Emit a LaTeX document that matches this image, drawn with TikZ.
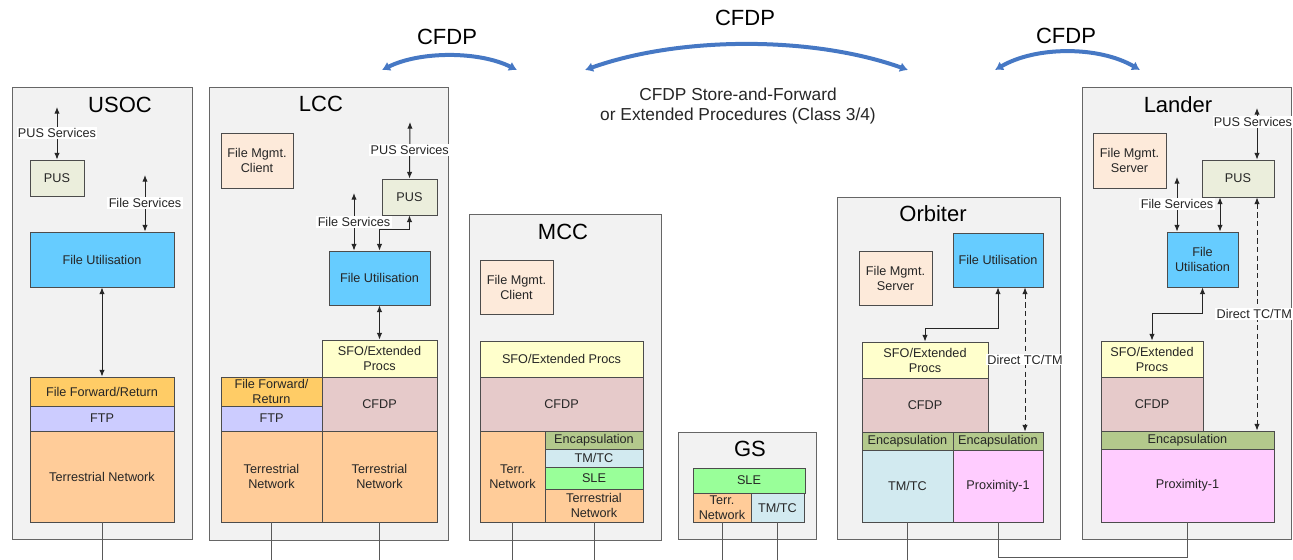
\documentclass[tikz,border=0pt]{standalone}
\usepackage{fontspec}
\setmainfont{Liberation Sans}
\usetikzlibrary{arrows.meta,fit}

\definecolor{stationbg}{HTML}{F2F2F2}
\definecolor{pusfill}{HTML}{EBEEDC}
\definecolor{mgmtfill}{HTML}{FDEADA}
\definecolor{utilfill}{HTML}{66CCFF}
\definecolor{ffrfill}{HTML}{FFCC66}
\definecolor{ftpfill}{HTML}{CCCCFF}
\definecolor{terrfill}{HTML}{FFCC99}
\definecolor{sfofill}{HTML}{FFFFCC}
\definecolor{cfdpfill}{HTML}{E6CACA}
\definecolor{encfill}{HTML}{B3C98C}
\definecolor{tmtcfill}{HTML}{D2EAF0}
\definecolor{slefill}{HTML}{99FF99}
\definecolor{proxfill}{HTML}{FFCCFF}
\definecolor{arcblue}{HTML}{4678C4}

% one block of a stack, given by its corners, text set in the middle
\newcommand{\layer}[7]{%
  \node[#2, fit={(#3,#4) (#5,#6)}] (#1) {};
  \node[at={(#1.center)}, boxtext] (#1Text) {#7};}

\begin{document}
\begin{tikzpicture}[x=0.75pt, y=-0.75pt]

\tikzstyle{station} = [draw=black!60, fill=stationbg, line width=0.75pt, inner sep=0pt]
\tikzstyle{box} = [draw=black!70, line width=0.6pt, inner sep=0pt]
\tikzstyle{boxtext} = [anchor=center, align=center, inner sep=0pt, text=black!85,
  font=\fontsize{9.5}{11.25}\selectfont]
\tikzstyle{title} = [font=\fontsize{16.5}{19}\selectfont, anchor=center]
\tikzstyle{conn} = [{Latex[length=5pt,width=4pt]}-{Latex[length=5pt,width=4pt]},
  line width=0.7pt, draw=black!85]
\tikzstyle{direct} = [conn, dash pattern=on 4pt off 2.5pt]
\tikzstyle{svc} = [fill=white, inner sep=1pt, text=black!85, font=\fontsize{9.5}{11}\selectfont]
\tikzstyle{wire} = [draw=black!65, line width=0.6pt]
\tikzstyle{cfdparc} = [{Latex[length=6pt,width=7.5pt]}-{Latex[length=6pt,width=7.5pt]},
  draw=arcblue, line width=3pt]

\useasboundingbox (0,0) rectangle (1293,560);

% stations
\layer{usoc}{station}{12}{88}{192}{539}{}
\layer{lcc}{station}{209}{88}{448}{540}{}
\layer{mcc}{station}{469}{214}{661}{540}{}
\layer{gs}{station}{678}{432}{816}{539}{}
\layer{orbiter}{station}{837}{197}{1060}{539}{}
\layer{lander}{station}{1082}{88}{1291}{539}{}

\node[title] (usocName) at (120,105) {USOC};
\node[title] (lccName) at (321,104) {LCC};
\node[title] (mccName) at (563,232) {MCC};
\node[title] (gsName) at (750,449) {GS};
\node[title] (orbName) at (933,214) {Orbiter};
\node[title] (landName) at (1178,105) {Lander};

% USOC
\layer{usocPus}{box, fill=pusfill}{30}{160}{84}{196}{PUS}
\layer{usocFu}{box, fill=utilfill}{30}{232}{174}{287}{File Utilisation}
\layer{usocFfr}{box, fill=ffrfill}{30}{377}{174}{406}{File Forward/Return}
\layer{usocFtp}{box, fill=ftpfill}{30}{406}{174}{431}{FTP}
\layer{usocTn}{box, fill=terrfill}{30}{431}{174}{522}{Terrestrial Network}

\coordinate (usocPusEnd) at (57,107);
\draw[conn] (usocPus.north) -- (usocPusEnd) node[svc, midway] (usocPusLbl) {PUS Services};
\coordinate (usocFsEnd) at (145,175);
\draw[conn] (usocFu.north -| usocFsEnd) -- (usocFsEnd) node[svc, midway] (usocFsLbl) {File Services};
\draw[conn] (usocFu.south) -- (usocFfr.north);

% LCC
\layer{lccMgmt}{box, fill=mgmtfill}{221}{133}{293}{188}{File Mgmt.\\Client}
\layer{lccPus}{box, fill=pusfill}{382}{179}{437}{215}{PUS}
\layer{lccFu}{box, fill=utilfill}{329}{251}{430}{305}{File Utilisation}
\layer{lccSfo}{box, fill=sfofill}{322}{340}{437}{377}{SFO/Extended\\Procs}
\layer{lccCfdp}{box, fill=cfdpfill}{322}{377}{437}{431}{CFDP}
\layer{lccFfr}{box, fill=ffrfill}{221}{377}{322}{406}{File Forward/\\Return}
\layer{lccFtp}{box, fill=ftpfill}{221}{406}{322}{431}{FTP}
\layer{lccTnA}{box, fill=terrfill}{221}{431}{322}{522}{Terrestrial\\Network}
\layer{lccTnB}{box, fill=terrfill}{322}{431}{437}{522}{Terrestrial\\Network}

\coordinate (lccPusEnd) at (410,122);
\draw[conn] (lccPus.north) -- (lccPusEnd) node[svc, midway] (lccPusLbl) {PUS Services};
\coordinate (lccFsEnd) at (354,193);
\draw[conn] (lccFu.north -| lccFsEnd) -- (lccFsEnd) node[svc, midway] (lccFsLbl) {File Services};
\draw[conn] (lccPus.south) -- ++(0,14) -| (lccFu.north);
\draw[conn] (lccFu.south) -- (lccSfo.north);

% MCC
\layer{mccMgmt}{box, fill=mgmtfill}{480}{260}{553}{314}{File Mgmt.\\Client}
\layer{mccSfo}{box, fill=sfofill}{480}{341}{643}{377}{SFO/Extended Procs}
\layer{mccCfdp}{box, fill=cfdpfill}{480}{377}{643}{431}{CFDP}
\layer{mccTerr}{box, fill=terrfill}{480}{431}{545}{522}{Terr.\\Network}
\layer{mccEnc}{box, fill=encfill}{545}{431}{643}{449}{Encapsulation}
\layer{mccTmtc}{box, fill=tmtcfill}{545}{449}{643}{467}{TM/TC}
\layer{mccSle}{box, fill=slefill}{545}{467}{643}{489}{SLE}
\layer{mccTn}{box, fill=terrfill}{545}{489}{643}{522}{Terrestrial\\Network}

% GS
\layer{gsSle}{box, fill=slefill}{693}{468}{805}{493}{SLE}
\layer{gsTerr}{box, fill=terrfill}{693}{493}{751}{522}{Terr.\\Network}
\layer{gsTmtc}{box, fill=tmtcfill}{751}{493}{804}{522}{TM/TC}

% Orbiter
\layer{orbMgmt}{box, fill=mgmtfill}{859}{251}{932}{305}{File Mgmt.\\Server}
\layer{orbFu}{box, fill=utilfill}{953}{233}{1043}{287}{File Utilisation}
\layer{orbSfo}{box, fill=sfofill}{862}{342}{988}{378}{SFO/Extended\\Procs}
\layer{orbCfdp}{box, fill=cfdpfill}{862}{378}{988}{432}{CFDP}
\layer{orbEncA}{box, fill=encfill}{862}{432}{953}{450}{Encapsulation}
\layer{orbEncB}{box, fill=encfill}{953}{432}{1043}{450}{Encapsulation}
\layer{orbTmtc}{box, fill=tmtcfill}{862}{450}{953}{522}{TM/TC}
\layer{orbProx}{box, fill=proxfill}{953}{450}{1043}{522}{Proximity-1}

\draw[conn] (orbFu.south) -- ++(0,41) -| (orbSfo.north);
\coordinate (orbDirect) at (1025,0);
\draw[direct] (orbFu.south -| orbDirect) -- (orbEncB.north -| orbDirect)
  node[svc, midway] (orbDirectLbl) {Direct TC/TM};

% Lander
\layer{landMgmt}{box, fill=mgmtfill}{1093}{133}{1166}{188}{File Mgmt.\\Server}
\layer{landPus}{box, fill=pusfill}{1202}{160}{1274}{197}{PUS}
\layer{landFu}{box, fill=utilfill}{1167}{232}{1238}{287}{File\\Utilisation}
\layer{landSfo}{box, fill=sfofill}{1101}{341}{1203}{377}{SFO/Extended\\Procs}
\layer{landCfdp}{box, fill=cfdpfill}{1101}{377}{1203}{431}{CFDP}
\layer{landEnc}{box, fill=encfill}{1101}{431}{1274}{449}{Encapsulation}
\layer{landProx}{box, fill=proxfill}{1101}{449}{1274}{522}{Proximity-1}

\coordinate (landPusEnd) at (1257,108);
\draw[conn] (landPus.north -| landPusEnd) -- (landPusEnd)
  node[svc, pos=0.73, xshift=-3pt] (landPusLbl) {PUS Services};
\coordinate (landFsEnd) at (1177,177);
\draw[conn] (landFu.north -| landFsEnd) -- (landFsEnd) node[svc, midway] (landFsLbl) {File Services};
\coordinate (landLink) at (1220,0);
\draw[conn] (landPus.south -| landLink) -- (landFu.north -| landLink);
\draw[conn] (landFu.south) -- ++(0,26) -| (landSfo.north);
\draw[direct] (landPus.south -| landPusEnd) -- (landEnc.north -| landPusEnd)
  node[svc, midway, xshift=-2pt] (landDirectLbl) {Direct TC/TM};

% links leaving the stations
\coordinate (floor) at (0,560);
\coordinate (linkY) at (0,557);
\foreach \n in {usocTn, lccTnA, lccTnB, mccTerr, mccTn, gsTerr, gsTmtc, orbTmtc}
  \draw[wire] (\n.south) -- (\n.south |- floor);
\draw[wire] (orbProx.south) |- (landProx.south |- linkY) -- (landProx.south);

% CFDP peer arcs
\coordinate (arcA1) at (382,70);
\coordinate (arcA2) at (517,70);
\draw[cfdparc] (arcA1) .. controls (420,51) and (479,51) .. (arcA2);
\node[title] (arcAName) at (447,37) {CFDP};

\coordinate (arcB1) at (585,70);
\coordinate (arcB2) at (908,70);
\draw[cfdparc] (arcB1) .. controls (680,36) and (813,36) .. (arcB2);
\node[title] (arcBName) at (745,18) {CFDP};

\coordinate (arcC1) at (995,70);
\coordinate (arcC2) at (1140,70);
\draw[cfdparc] (arcC1) .. controls (1036,46) and (1099,46) .. (arcC2);
\node[title] (arcCName) at (1066,36) {CFDP};

\node[font=\fontsize{13}{15}\selectfont, align=center, text=black!85] (sfwdNote) at (738,106)
  {CFDP Store-and-Forward\\or Extended Procedures (Class 3/4)};

\end{tikzpicture}
\end{document}
